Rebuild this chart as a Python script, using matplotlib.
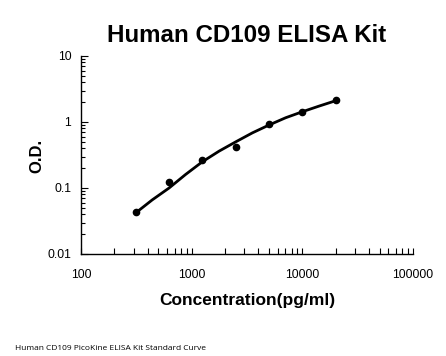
import matplotlib
matplotlib.use("Agg")
import matplotlib.pyplot as plt
from matplotlib.ticker import LogLocator, FixedLocator, NullFormatter

plt.rcParams['font.family'] = ['Liberation Sans', 'DejaVu Sans']

# Standard points
conc = [312.5, 625, 1250, 2500, 5000, 10000, 20000]
od = [0.043, 0.122, 0.263, 0.42, 0.944, 1.43, 2.13]

# Fitted curve
curve_x = [312.5, 440, 625, 880, 1250, 1770, 2500, 3540, 5000, 7070, 10000, 14140, 20000]
curve_y = [0.042, 0.066, 0.100, 0.160, 0.25, 0.362, 0.50, 0.685, 0.90, 1.16, 1.43, 1.74, 2.10]

xticks = [100, 1000, 10000, 100000]
xtick_labels = ['100', '1000', '10000', '100000']
yticks = [0.01, 0.1, 1, 10]
ytick_labels = ['0.01', '0.1', '1', '10']

fig = plt.figure(figsize=(4.46, 3.56), dpi=100)
W, H = 446, 356
ax = fig.add_axes([81 / W, 1 - 254 / H, (413 - 81) / W, (254 - 56) / H])

ax.plot(curve_x, curve_y, color='black', lw=2.0, solid_capstyle='round', solid_joinstyle='round')
ax.plot(conc, od, 'o', color='black', markersize=4.5)

ax.set_xscale('log')
ax.set_yscale('log')
ax.set_xlim(100, 100000)
ax.set_ylim(0.01, 10)

ax.xaxis.set_major_locator(FixedLocator(xticks))
ax.set_xticklabels(xtick_labels)
ax.yaxis.set_major_locator(FixedLocator(yticks))
ax.set_yticklabels(ytick_labels)
ax.xaxis.set_minor_locator(LogLocator(base=10, subs=range(2, 10)))
ax.yaxis.set_minor_locator(LogLocator(base=10, subs=range(2, 10)))
ax.xaxis.set_minor_formatter(NullFormatter())
ax.yaxis.set_minor_formatter(NullFormatter())

ax.tick_params(axis='both', which='both', direction='in', width=0.8, labelsize=8.7)
ax.tick_params(axis='x', which='major', length=4, pad=10.5)
ax.tick_params(axis='x', which='minor', length=4)
ax.tick_params(axis='y', which='major', length=5, pad=7)
ax.tick_params(axis='y', which='minor', length=3)

for s in ['top', 'right']:
    ax.spines[s].set_visible(False)
for s in ['left', 'bottom']:
    ax.spines[s].set_linewidth(1.0)

fig.text(247 / W, 1 - 35 / H, 'Human CD109 ELISA Kit', ha='center', va='center',
         fontsize=17.4, fontweight='bold')
fig.text(37 / W, 1 - 156 / H, 'O.D.', ha='center', va='center', rotation=90,
         fontsize=12, fontweight='bold')
fig.text(247 / W, 1 - 301 / H, 'Concentration(pg/ml)', ha='center', va='center',
         fontsize=12.5, fontweight='bold')
fig.text(15 / W, 1 - 349 / H, 'Human CD109 PicoKine ELISA Kit Standard Curve', ha='left',
         va='center', fontsize=6, family=['Open Sans', 'DejaVu Sans'])

fig.savefig('out.png', dpi=100)
